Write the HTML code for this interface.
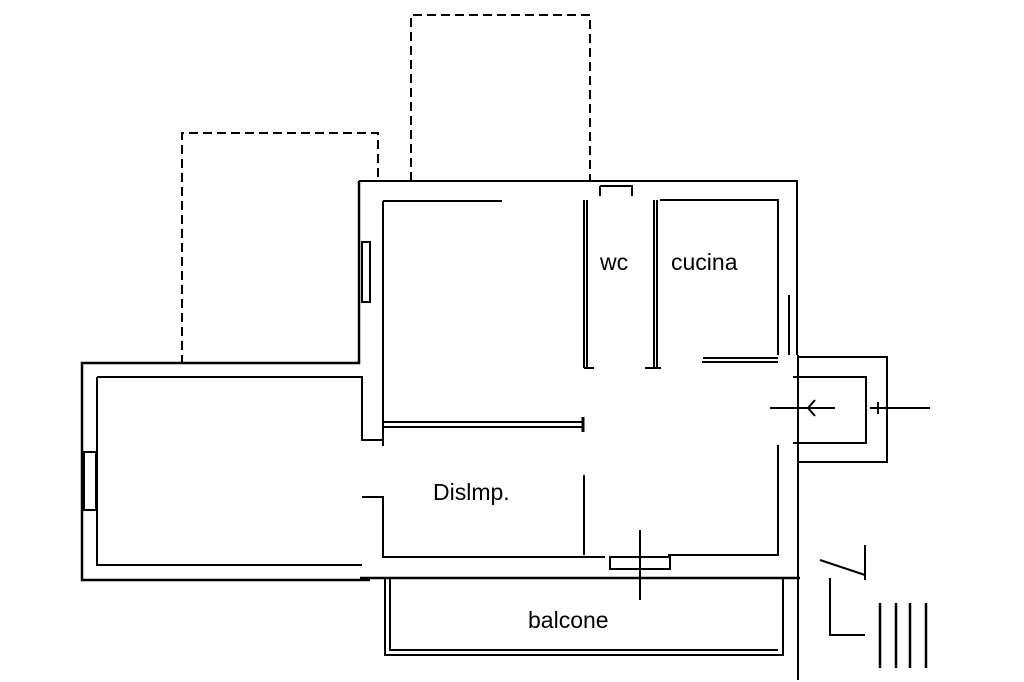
<!DOCTYPE html>
<html><head><style>body{margin:0;background:#fff}svg{display:block}text{font-family:"Liberation Sans",sans-serif;font-size:23px;fill:#000;stroke:none}</style></head><body>
<svg width="1024" height="682" viewBox="0 0 1024 682" stroke="#000" fill="none" stroke-width="2">
<g stroke-dasharray="9,5">
<path d="M182 364V133H378V181"/>
<path d="M411 181V15H590V181"/>
</g>
<path d="M359 181H590M590 181H797V355" stroke-width="2"/>
<path d="M359 181V363H82V580H370" stroke-width="2.5"/>
<path d="M97 377V565H362M97 377H362V440H383V446M383 201V446M383 201H502"/>
<rect x="362" y="242" width="8" height="60"/>
<rect x="84" y="452" width="12" height="58"/>
<path d="M383 422H583M383 427H583" stroke-width="2"/>
<path d="M583 417V432" stroke-width="3"/>
<path d="M362 497H383V557H605"/>
<path d="M360 578H800" stroke-width="2.5"/>
<path d="M385 578V655H783V578M390 578V650H778"/>
<path d="M584 200V368M587 200V368M584 368H594M654 200V368M657 200V368M645 368H661" stroke-width="2"/>
<path d="M600 186H632V196M600 186V196"/>
<path d="M660 200H778V355M702 362H778M703 358H778"/>
<path d="M789 295V355"/>
<path d="M778 445V555H668M584 475V555" />
<rect x="610" y="557" width="60" height="12"/>
<path d="M640 530V600"/>
<path d="M798 355V680M798 357H887V462H798M793 377H866V443H793"/>
<path d="M770 408H835M815 400L808 408L815 416M870 408H930M878 402V414"/>
<path d="M830 578V635H865M865 545V580M820 560L865 575"/>
<path d="M880 603V668M896 603V668M910 603V668M926 603V668" stroke-width="2.5"/>
<text x="600" y="270">wc</text>
<text x="671" y="270">cucina</text>
<text x="433" y="500">Dislmp.</text>
<text x="528" y="628">balcone</text>
</svg>
</body></html>
